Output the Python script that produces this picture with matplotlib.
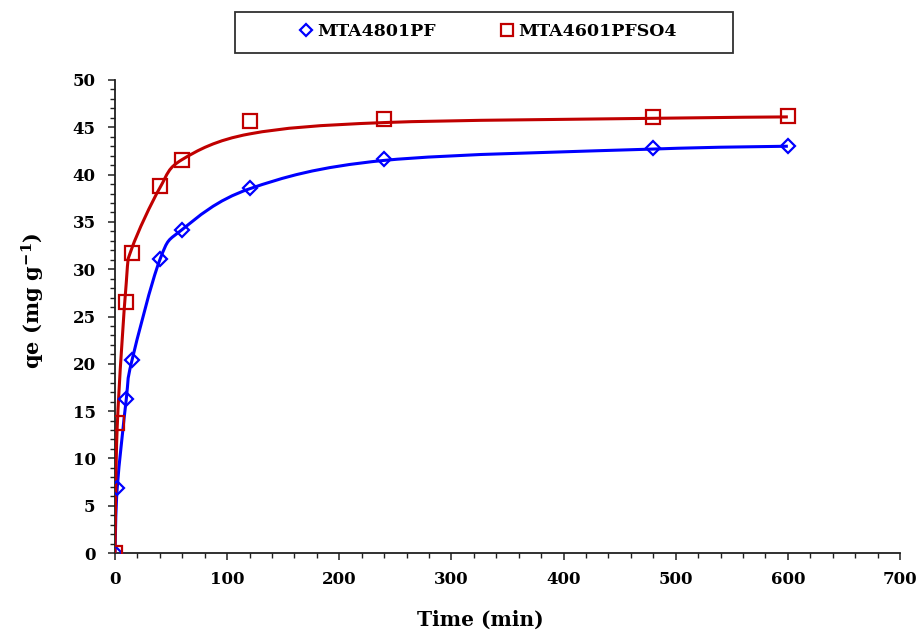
import numpy as np
import matplotlib
matplotlib.use('Agg')
import matplotlib.pyplot as plt
from matplotlib.path import Path
from matplotlib.patches import PathPatch, Rectangle
from matplotlib.ticker import MultipleLocator
from matplotlib.lines import Line2D

# ---- data ----
time_min = [0, 2, 10, 15, 40, 60, 120, 240, 480, 600]
qe_mta4801pf = [0, 6.9, 16.3, 20.4, 31.1, 34.1, 38.6, 41.6, 42.8, 43.05]
qe_mta4601pfso4 = [0, 13.7, 26.5, 31.7, 38.8, 41.5, 45.7, 45.85, 46.05, 46.2]
# fitted (model) curve values at the same times
fit_mta4801pf = [0, 6.9, 16.2, 20.3, 31.0, 34.2, 38.5, 41.5, 42.7, 43.0]
fit_mta4601pfso4 = [0, 13.4, 28.5, 32.2, 38.6, 41.6, 44.3, 45.5, 45.95, 46.1]
series_labels = ['MTA4801PF', 'MTA4601PFSO4']
x_ticks = [0, 100, 200, 300, 400, 500, 600, 700]
y_ticks = [0, 5, 10, 15, 20, 25, 30, 35, 40, 45, 50]

BLUE = '#0000FF'
RED = '#C00000'
FONT = 'DejaVu Serif'

plt.rcParams['font.family'] = [FONT]
plt.rcParams['mathtext.fontset'] = 'dejavuserif'

fig = plt.figure(figsize=(9.21, 6.34), dpi=100)
ax = fig.add_axes([115/921, 1-553/634, 785/921, 473/634])


def smooth_path(xs, ys):
    """Excel-style smoothed line: cubic Bezier segments through the points."""
    P = np.column_stack([xs, ys]).astype(float)
    n = len(P)
    verts = [P[0]]
    codes = [Path.MOVETO]
    for i in range(n - 1):
        p_prev = P[i - 1] if i > 0 else P[i]
        p_next2 = P[i + 2] if i + 2 < n else P[i + 1]
        c1 = P[i] + (P[i + 1] - p_prev) / 6.0
        c2 = P[i + 1] - (p_next2 - P[i]) / 6.0
        verts += [c1, c2, P[i + 1]]
        codes += [Path.CURVE4] * 3
    return Path(verts, codes)


for fit, col in [(fit_mta4801pf, BLUE), (fit_mta4601pfso4, RED)]:
    patch = PathPatch(smooth_path(time_min, fit), facecolor='none',
                      edgecolor=col, lw=2.2, zorder=2)
    ax.add_patch(patch)

ax.plot(time_min, qe_mta4801pf, linestyle='none', marker='D', ms=6.8,
        mfc='none', mec=BLUE, mew=1.6, zorder=3)
ax.plot(time_min, qe_mta4601pfso4, linestyle='none', marker='s', ms=9.5,
        mfc='none', mec=RED, mew=1.6, zorder=3)

ax.set_xlim(0, 700)
ax.set_ylim(0, 50)
ax.set_xticks(x_ticks)
ax.set_yticks(y_ticks)
ax.xaxis.set_minor_locator(MultipleLocator(20))
ax.yaxis.set_minor_locator(MultipleLocator(1))

for s in ['top', 'right']:
    ax.spines[s].set_visible(False)
for s in ['left', 'bottom']:
    ax.spines[s].set_linewidth(1.3)
    ax.spines[s].set_color('#202020')
    ax.spines[s].set_zorder(1)

ax.tick_params(axis='both', which='major', direction='out', length=5,
               width=1.1, color='#202020', labelsize=12)
ax.tick_params(axis='both', which='minor', direction='out', length=3.5,
               width=1.0, color='#202020')
ax.tick_params(axis='x', which='major', pad=8)
ax.tick_params(axis='y', which='major', pad=9)
for lab in ax.get_xticklabels() + ax.get_yticklabels():
    lab.set_fontweight('bold')

ax.set_xlabel('Time (min)', fontsize=14.5, fontweight='bold')
ax.xaxis.set_label_coords((480-115)/785, -(610-553)/473)
ax.set_ylabel(r'qe (mg g$^{\mathbf{-1}}$)', fontsize=15, fontweight='bold')
ax.yaxis.set_label_coords((47-115)/785, (553-301)/473)

handles = [
    Line2D([], [], linestyle='none', marker='D', ms=6.5, mfc='none', mec=BLUE, mew=1.6),
    Line2D([], [], linestyle='none', marker='s', ms=8, mfc='none', mec=RED, mew=1.6),
]
leg = fig.legend(handles, series_labels, loc='center', ncol=2, frameon=False,
                 bbox_to_anchor=(488/921, 1-32/634),
                 prop={'weight': 'bold', 'size': 12.5, 'family': FONT},
                 handlelength=0.8, handletextpad=0.25, columnspacing=3.7)
fig.patches.append(Rectangle((235/921, 1-53/634), 498/921, 41/634,
                             transform=fig.transFigure, facecolor='none',
                             edgecolor='#303030', lw=1.3))

fig.savefig('out.png', dpi=100)
